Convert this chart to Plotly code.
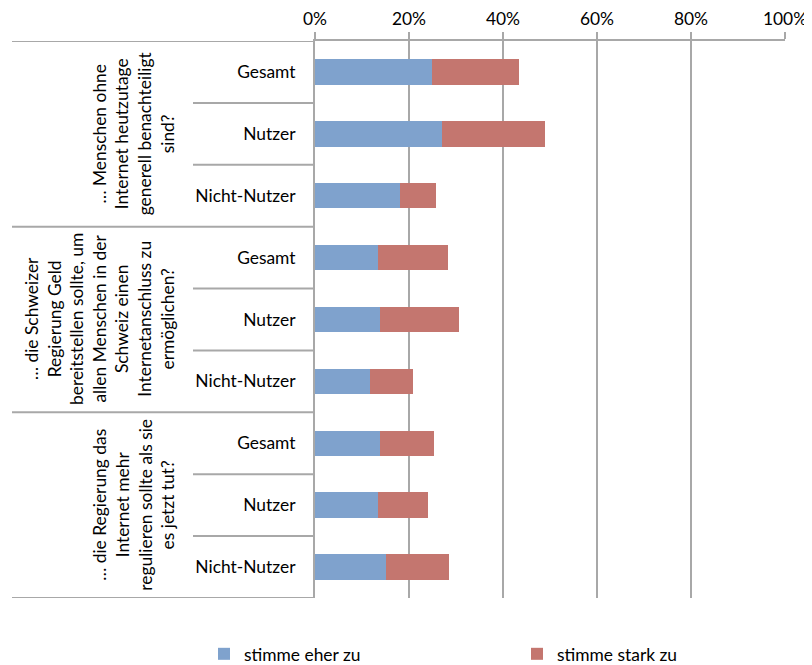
import plotly.graph_objects as go

questions = [
    "… Menschen ohne<br>Internet heutzutage<br>generell benachteiligt<br>sind?",
    "… die Schweizer<br>Regierung Geld<br>bereitstellen sollte, um<br>allen Menschen in der<br>Schweiz einen<br>Internetanschluss zu<br>ermöglichen?",
    "… die Regierung das<br>Internet mehr<br>regulieren sollte als sie<br>es jetzt tut?",
]
groups = ["Gesamt", "Nutzer", "Nicht-Nutzer"]
series_names = ["stimme eher zu", "stimme stark zu"]
eher = [24.9, 27.0, 18.0, 13.4, 13.8, 11.8, 13.8, 13.4, 15.1]
stark = [18.4, 22.0, 7.7, 14.8, 16.8, 9.0, 11.5, 10.6, 13.5]
x_ticks = [0, 20, 40, 60, 80, 100]

colors = ["#7FA2CD", "#C4766F"]
FONT = "Lato, 'Open Sans', sans-serif"
FS = 17.4
GRAY = "#A8A8A8"
TXT = "#000000"

n = len(questions) * len(groups)
ypos = list(range(n))
labels = [g for _ in questions for g in groups]

# page body has an 8px margin; work in screen pixels and shift
OFF = 8
W, H = 812 - OFF, 665 - OFF
L, R, T, B = 315 - OFF, 27, 41 - OFF, 67
pw = W - L - R
ph = H - T - B

def px2paper(px):  # screen px -> paper x
    return (px - OFF - L) / pw

def py2paper(py):  # screen py -> paper y
    return (H - B - (py - OFF)) / ph

fig = go.Figure()
for name, vals, c in zip(series_names, [eher, stark], colors):
    fig.add_trace(go.Bar(
        y=ypos, x=vals, name=name, orientation="h",
        marker=dict(color=c, line=dict(width=0)), width=0.41,
    ))

shapes = []
for k in range(len(questions) + 1):
    yv = k * len(groups) - 0.5
    shapes.append(dict(type="line", xref="paper", yref="y",
                       x0=px2paper(12), x1=0, y0=yv, y1=yv,
                       line=dict(color=GRAY, width=2)))
for k in range(len(questions)):
    for j in range(1, len(groups)):
        yv = k * len(groups) + j - 0.5
        shapes.append(dict(type="line", xref="paper", yref="y",
                           x0=px2paper(193), x1=0, y0=yv, y1=yv,
                           line=dict(color=GRAY, width=2)))

annotations = []
for k, q in enumerate(questions):
    annotations.append(dict(
        xref="paper", yref="y", x=px2paper(180), y=k * len(groups) + 1,
        text=q, textangle=-90, showarrow=False, xanchor="right", yanchor="middle",
        align="center", font=dict(family=FONT, size=FS, color=TXT),
    ))

fig.update_layout(
    width=W, height=H,
    margin=dict(l=L, r=R, t=T, b=B, autoexpand=False),
    barmode="stack",
    paper_bgcolor="white", plot_bgcolor="white",
    font=dict(family=FONT, size=FS, color=TXT),
    shapes=shapes, annotations=annotations,
    xaxis=dict(
        side="top", range=[0, 100], tickvals=x_ticks,
        ticktext=[f"{v}%" for v in x_ticks],
        showgrid=True, gridcolor=GRAY, gridwidth=2,
        showline=True, linecolor=GRAY, linewidth=2,
        ticks="outside", ticklen=7, tickcolor=GRAY, tickwidth=2,
        zeroline=False, fixedrange=True, automargin=False,
    ),
    yaxis=dict(
        range=[n - 0.5, -0.5], tickvals=ypos, ticktext=labels,
        showgrid=False, showline=True, linecolor=GRAY, linewidth=2,
        ticks="", zeroline=False, ticklabelstandoff=14, automargin=False,
    ),
    showlegend=True,
    legend=dict(
        orientation="h", x=px2paper(204), xanchor="left",
        y=py2paper(654), yanchor="middle",
        entrywidth=268, entrywidthmode="pixels",
        font=dict(family=FONT, size=FS, color=TXT),
        traceorder="normal",
    ),
    bargap=0,
)

fig.write_html("out.html")
